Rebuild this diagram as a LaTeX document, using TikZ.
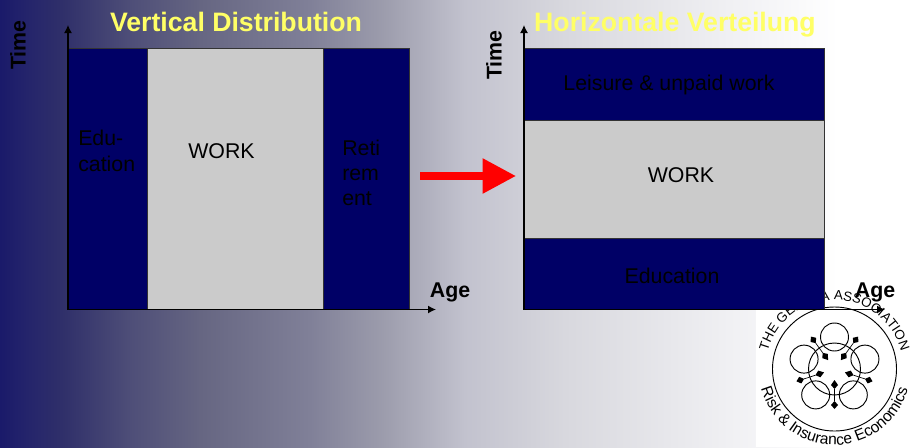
\documentclass[tikz,border=0pt]{standalone}
\usepackage{fontspec}
\setmainfont{Liberation Sans}
\usetikzlibrary{arrows.meta}
\usetikzlibrary{positioning}
\usetikzlibrary{calc}
\usetikzlibrary{decorations.text}
\definecolor{bgA}{RGB}{26,26,106}
\definecolor{bgB}{RGB}{36,36,107}
\definecolor{bgC}{RGB}{48,48,106}
\definecolor{bgD}{RGB}{78,78,120}
\definecolor{bgE}{RGB}{102,102,130}
\definecolor{bgF}{RGB}{128,128,152}
\definecolor{bgG}{RGB}{156,156,172}
\definecolor{bgH}{RGB}{194,194,206}
\definecolor{bgI}{RGB}{216,216,222}
\definecolor{bgJ}{RGB}{240,240,243}
\pgfdeclarehorizontalshading{slidebg}{100bp}{
  color(0bp)=(bgA); color(25bp)=(bgA); color(26.5bp)=(bgB); color(28.5bp)=(bgC); color(32.15bp)=(bgD);
  color(36bp)=(bgE); color(42bp)=(bgF); color(46bp)=(bgG); color(50.5bp)=(bgH);
  color(56bp)=(bgI); color(65bp)=(bgJ); color(71bp)=(white); color(100bp)=(white)}
\definecolor{navybar}{RGB}{0,0,102}
\definecolor{workgray}{RGB}{203,203,203}
\definecolor{titleyellow}{RGB}{255,255,102}
\tikzset{
  navybox/.style={draw=black!80, line width=0.8pt, fill=navybar, inner sep=0pt, anchor=north west},
  workbox/.style={navybox, fill=workgray},
  boxlabel/.style={font=\fontsize{16}{19}\selectfont, text=black, align=left},
  title/.style={font=\bfseries\fontsize{20}{24}\selectfont, text=titleyellow},
  axislabel/.style={font=\bfseries\fontsize{16}{19}\selectfont},
  axis/.style={-{Latex[length=6pt,width=6pt]}, line width=1pt},
  logoline/.style={line width=0.7pt},
}
\begin{document}
\begin{tikzpicture}[x=0.75pt,y=-0.75pt]
  \useasboundingbox (0,0) rectangle (911,447);
  \shade[shading=slidebg] (0,0) rectangle (911,447);
  % logo
  \fill[white] (756,291) rectangle (911,447);
  \coordinate (logoC) at (834.5,369);
  \draw[logoline] (logoC) circle (62);
  \draw[logoline] (logoC) circle (26);
  \foreach \a in {-90,-162,-234,-306,-18}
    \draw[logoline] ($(logoC)+(\a:32)$) circle (14);
  \foreach \a in {-90,-18,-162,54,126}{
    \begin{scope}[shift={(logoC)},rotate=\a]
      \fill (11,0) -- (16,-3.5) -- (20,0) -- (16,3.5) -- cycle;
      \fill (32,0) -- (36,-3.5) -- (40,0) -- (36,3.5) -- cycle;
      \draw[line width=0.5pt] (20,0) -- (32,0);
    \end{scope}
  }
  \path[decorate,decoration={text along path,text align=center,
    text={|\fontsize{10}{12}\selectfont|THE GENEVA ASSOCIATION}}]
    ($(logoC)+(-178:69)$) arc (-178:-2:69);
  \path[decorate,decoration={text along path,text align=center,
    text={|\fontsize{11.7}{14}\selectfont|Risk {\&} Insurance Economics}}]
    ($(logoC)+(178:76)$) arc (178:2:76);
  % left chart
  \node[navybox, minimum width=60pt, minimum height=195.75pt] (eduV) at (68,48) {};
  \node[workbox, minimum width=132.75pt, minimum height=195.75pt] (workV) at (147,48) {};
  \node[navybox, minimum width=64.5pt, minimum height=195.75pt] (retV) at (323,48) {};
  \node[boxlabel, anchor=west, inner sep=0pt] (eduT) at (78,151) {Edu-\\cation};
  \node[boxlabel, anchor=west, inner sep=0pt] (workT) at (188,151) {WORK};
  \node[boxlabel, anchor=west, inner sep=0pt] (retT) at (342,173) {Reti\\rem\\ent};
  \coordinate (originV) at (68,309.5);
  \coordinate (topV) at (68,25);
  \coordinate (endV) at (436,309.5);
  \draw[axis] (originV) -- (topV);
  \draw[axis] (originV) -- (endV);
  \node[title] (titleV) at (236,22) {Vertical Distribution};
  \node[axislabel, rotate=90] (timeV) at (18,45) {Time};
  \node[axislabel] (ageV) at (450,292.5) {Age};
  % arrow
  \coordinate (arrowA) at (420,176);
  \coordinate (arrowB) at (516,176);
  \draw[-{Triangle[length=25pt,width=25pt]}, red, line width=5.5pt] (arrowA) -- (arrowB);
  % right chart
  \node[navybox, minimum width=225pt, minimum height=54pt] (leisH) at (524,48) {};
  \node[workbox, minimum width=225pt, minimum height=88.5pt] (workH) at (524,120) {};
  \node[navybox, minimum width=225pt, minimum height=53.25pt] (eduH) at (524,238) {};
  \node[boxlabel] (leisT) at (669,85) {Leisure \& unpaid work};
  \node[boxlabel] (workHT) at (681,175) {WORK};
  \node[boxlabel] (eduHT) at (672,276) {Education};
  \coordinate (originH) at (524,309.5);
  \coordinate (topH) at (524,25);
  \coordinate (endH) at (885,309.5);
  \draw[axis] (originH) -- (topH);
  \draw[axis] (originH) -- (endH);
  \node[title] (titleH) at (675,24.5) {Horizontale Verteilung};
  \node[axislabel, rotate=90] (timeH) at (494,55) {Time};
  \node[axislabel] (ageH) at (875,292.5) {Age};
\end{tikzpicture}
\end{document}
